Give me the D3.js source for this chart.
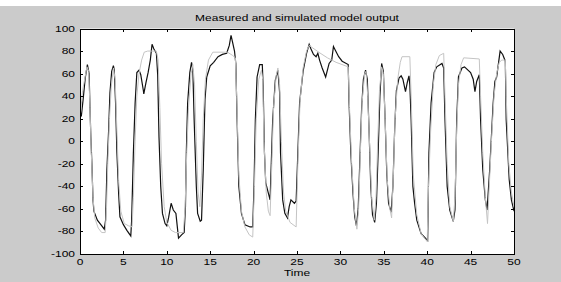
<!DOCTYPE html>
<meta charset="utf-8">
<style>
  body { margin: 0; background: #cbcbcb; }
  svg { display: block; }
  .lbl { font: 12px Arial, "Liberation Sans", sans-serif; fill: #000; }
</style>
<script src="https://d3js.org/d3.v7.min.js"></script>
<div id="chart"></div>
<script>
  // measured output (black)
  var measuredTime = [0, 0.15, 0.4, 0.6, 0.85, 1.05, 1.15, 1.25, 1.35, 1.5, 1.6, 2.0, 2.4, 2.8, 2.95, 3.1, 3.3, 3.45, 3.65, 3.85,
    3.95, 4.1, 4.25, 4.45, 4.6, 5.0, 5.4, 5.85, 5.95, 6.15, 6.35, 6.55, 6.8, 7.0, 7.3, 7.35, 7.6, 7.85, 8.1, 8.3,
    8.5, 8.8, 8.95, 9.1, 9.3, 9.5, 9.8, 10.0, 10.2, 10.5, 10.75, 11.05, 11.2, 11.35, 11.7, 12.0, 12.15, 12.25, 12.4, 12.65,
    12.85, 13.0, 13.15, 13.4, 13.55, 13.85, 14.0, 14.2, 14.4, 14.6, 15.0, 15.4, 15.9, 16.4, 16.9, 17.2, 17.4, 17.6, 17.8, 17.95,
    18.1, 18.3, 18.6, 19.0, 19.6, 19.9, 20.05, 20.2, 20.4, 20.7, 21.0, 21.1, 21.25, 21.4, 21.7, 21.9, 22.2, 22.5, 22.8, 23.0,
    23.1, 23.35, 23.6, 23.9, 24.1, 24.3, 24.7, 24.9, 25.1, 25.3, 25.7, 26.1, 26.4, 26.6, 26.9, 27.2, 27.4, 27.6, 27.9, 28.3,
    28.7, 29.0, 29.2, 29.4, 29.8, 30.2, 30.9, 31.0, 31.2, 31.45, 31.65, 31.85, 32.05, 32.25, 32.45, 32.65, 32.9, 33.1, 33.3, 33.5,
    33.7, 33.95, 34.15, 34.35, 34.55, 34.75, 34.95, 35.15, 35.35, 35.55, 35.85, 36.05, 36.25, 36.45, 36.75, 37.0, 37.2, 37.5, 37.7, 37.9,
    38.0, 38.15, 38.35, 38.55, 38.8, 39.3, 39.8, 40.05, 40.2, 40.45, 40.8, 41.1, 41.7, 41.9, 42.05, 42.3, 42.6, 43.0, 43.2, 43.4,
    43.6, 44.0, 44.3, 45.0, 45.3, 45.5, 45.7, 46.0, 46.15, 46.4, 46.7, 46.9, 47.2, 47.6, 47.8, 48.0, 48.4, 48.7, 49.0, 49.1,
    49.45, 49.7, 50.0];
  var measuredValue = [25, 22, 40, 56, 68, 60, 30, 4, -16, -52, -62, -70, -74, -78, -70, -25, 10, 43, 62, 67,
    63, 34, -10, -46, -67, -74, -79, -84, -70, -10, 34, 61, 63, 59, 45, 42, 52, 61, 72, 86,
    82, 78, 59, 4, -40, -64, -73, -75, -68, -55, -61, -64, -75, -86, -83, -81, -58, -10, 34, 61,
    70, 63, 19, -40, -64, -71, -70, -25, 37, 57, 67, 70, 75, 77, 78, 85, 94, 87, 80, 69,
    19, -40, -64, -74, -76, -76, -40, 19, 57, 68, 68, 49, -10, -37, -46, -52, 19, 54, 63, 43,
    -10, -52, -64, -68, -58, -52, -55, -53, -10, 34, 62, 78, 86, 82, 77, 75, 78, 72, 65, 57,
    69, 72, 84, 81, 75, 71, 68, 34, -10, -46, -67, -75, -60, -15, 30, 55, 63, 55, 10, -40,
    -65, -72, -55, -10, 40, 69, 62, 20, -30, -55, -63, -40, 10, 45, 56, 58, 55, 44, 52, 58,
    50, 19, -40, -55, -70, -82, -86, -88, -10, 34, 61, 66, 69, 65, 19, -40, -61, -71, -61, 19,
    57, 65, 66, 61, 55, 44, 53, 59, 19, -25, -52, -61, -25, 34, 53, 57, 80, 77, 71, 19,
    -34, -52, -62];

  // simulated model output (gray)
  var simTime = [0, 0.3, 0.8, 1.0, 1.15, 1.3, 1.5, 1.7, 2.1, 2.5, 2.9, 3.05, 3.2, 3.4, 3.6, 3.85, 4.05, 4.25, 4.45, 4.7,
    5.1, 5.6, 6.0, 6.15, 6.35, 6.55, 6.8, 7.1, 7.4, 7.8, 8.8, 9.0, 9.2, 9.4, 9.7, 10.0, 10.5, 11.0, 11.9, 12.1,
    12.3, 12.5, 12.8, 13.0, 13.2, 13.4, 13.6, 13.8, 14.0, 14.2, 14.45, 14.8, 15.3, 17.0, 17.6, 17.9, 18.05, 18.3, 18.6, 19.0,
    19.5, 19.9, 20.1, 20.3, 20.6, 20.9, 21.05, 21.2, 21.45, 21.7, 21.9, 22.1, 22.3, 22.6, 22.8, 23.0, 23.2, 23.45, 23.7, 24.2,
    24.9, 25.1, 25.35, 25.7, 26.1, 26.4, 27.5, 28.5, 29.5, 30.9, 31.05, 31.3, 31.6, 31.9, 32.1, 32.3, 32.5, 32.8, 32.95, 33.15,
    33.4, 33.6, 33.9, 34.1, 34.3, 34.5, 34.75, 34.95, 35.15, 35.4, 35.7, 35.9, 36.1, 36.3, 36.6, 36.9, 37.1, 38.0, 38.15, 38.4,
    38.8, 39.3, 40.0, 40.15, 40.4, 40.7, 41.0, 41.4, 41.9, 42.05, 42.3, 42.6, 43.0, 43.2, 43.4, 43.6, 43.9, 44.2, 46.0, 46.15,
    46.4, 46.7, 46.95, 47.15, 47.4, 47.7, 48.0, 48.3, 48.6, 49.0, 49.1, 49.4, 49.7, 50.0];
  var simValue = [20, 45, 66, 62, 30, -10, -50, -68, -77, -81, -81, -60, -20, 20, 48, 65, 55, 10, -35, -62,
    -73, -75, -76, -50, 0, 40, 60, 72, 79, 80, 80, 72, 30, -20, -58, -72, -79, -81, -81, -60,
    -10, 30, 60, 68, 50, 0, -45, -58, -30, 20, 55, 72, 79, 79, 76, 74, 40, -30, -62, -76,
    -83, -85, -40, 20, 55, 63, 55, 0, -45, -62, -66, -20, 30, 58, 65, 50, 0, -45, -62, -72,
    -76, -20, 35, 65, 80, 85, 79, 74, 70, 66, 30, -20, -60, -78, -60, -10, 35, 60, 62, 40,
    -10, -50, -70, -50, 0, 45, 66, 60, 20, -35, -60, -68, -30, 20, 55, 70, 75, 75, 40, -30,
    -65, -82, -89, -40, 10, 50, 68, 76, 78, 40, -20, -58, -71, -50, 10, 50, 68, 74, 73, 40,
    -10, -50, -73, -40, 0, 40, 60, 70, 72, 72, 40, -20, -45, -58];

  var xTicks = [0, 5, 10, 15, 20, 25, 30, 35, 40, 45, 50];
  var yTicks = [-100, -80, -60, -40, -20, 0, 20, 40, 60, 80, 100];

  var width = 561, height = 282;
  var plot = { left: 80, right: 514, top: 28.5, bottom: 254 };
  var vScale = 0.7; // text looks squashed vertically in the reference

  var svg = d3.select("#chart").append("svg")
    .attr("width", width)
    .attr("height", height);

  svg.append("rect").attr("width", width).attr("height", height).attr("fill", "#cbcbcb");
  svg.append("rect").attr("width", width).attr("height", 6).attr("fill", "#fff");

  var x = d3.scaleLinear().domain([0, 50]).range([plot.left, plot.right]);
  var y = d3.scaleLinear().domain([-100, 100]).range([plot.bottom, plot.top]);

  svg.append("rect")
    .attr("x", plot.left).attr("y", plot.top)
    .attr("width", plot.right - plot.left).attr("height", plot.bottom - plot.top)
    .attr("fill", "#fff");

  svg.append("clipPath").attr("id", "clip").append("rect")
    .attr("x", plot.left).attr("y", plot.top)
    .attr("width", plot.right - plot.left).attr("height", plot.bottom - plot.top);

  var line = d3.line()
    .x(function(d) { return x(d[0]); })
    .y(function(d) { return y(d[1]); });

  var measured = d3.zip(measuredTime, measuredValue);
  var simulated = d3.zip(simTime, simValue);

  var g = svg.append("g").attr("clip-path", "url(#clip)");
  g.append("path").datum(measured)
    .attr("d", line).attr("fill", "none")
    .attr("stroke", "#111").attr("stroke-width", 1.2);
  g.append("path").datum(simulated)
    .attr("d", line).attr("fill", "none")
    .attr("stroke", "#c4c4c4").attr("stroke-width", 1);

  // axes box with inward ticks on all four sides
  var tickLen = 3;
  svg.append("g").attr("transform", "translate(0," + plot.bottom + ")")
    .call(d3.axisBottom(x).tickValues(xTicks).tickSizeInner(-tickLen).tickSizeOuter(0).tickFormat(""));
  svg.append("g").attr("transform", "translate(0," + plot.top + ")")
    .call(d3.axisTop(x).tickValues(xTicks).tickSizeInner(-tickLen).tickSizeOuter(0).tickFormat(""));
  svg.append("g").attr("transform", "translate(" + plot.left + ",0)")
    .call(d3.axisLeft(y).tickValues(yTicks).tickSizeInner(-tickLen).tickSizeOuter(0).tickFormat(""));
  svg.append("g").attr("transform", "translate(" + plot.right + ",0)")
    .call(d3.axisRight(y).tickValues(yTicks).tickSizeInner(-tickLen).tickSizeOuter(0).tickFormat(""));
  svg.selectAll(".domain, .tick line").attr("stroke", "#000").attr("shape-rendering", "crispEdges");

  function label(text, px, py, anchor) {
    svg.append("text")
      .attr("class", "lbl")
      .attr("text-anchor", anchor)
      .attr("transform", "translate(" + px + "," + py + ") scale(1," + vScale + ")")
      .text(text);
  }

  xTicks.forEach(function(t) { label(t, x(t), 265, "middle"); });
  yTicks.forEach(function(v) { label(v, 75, y(v) + 3, "end"); });
  label("Measured and simulated model output", (plot.left + plot.right) / 2, 21, "middle");
  label("Time", (plot.left + plot.right) / 2, 276, "middle");
</script>
